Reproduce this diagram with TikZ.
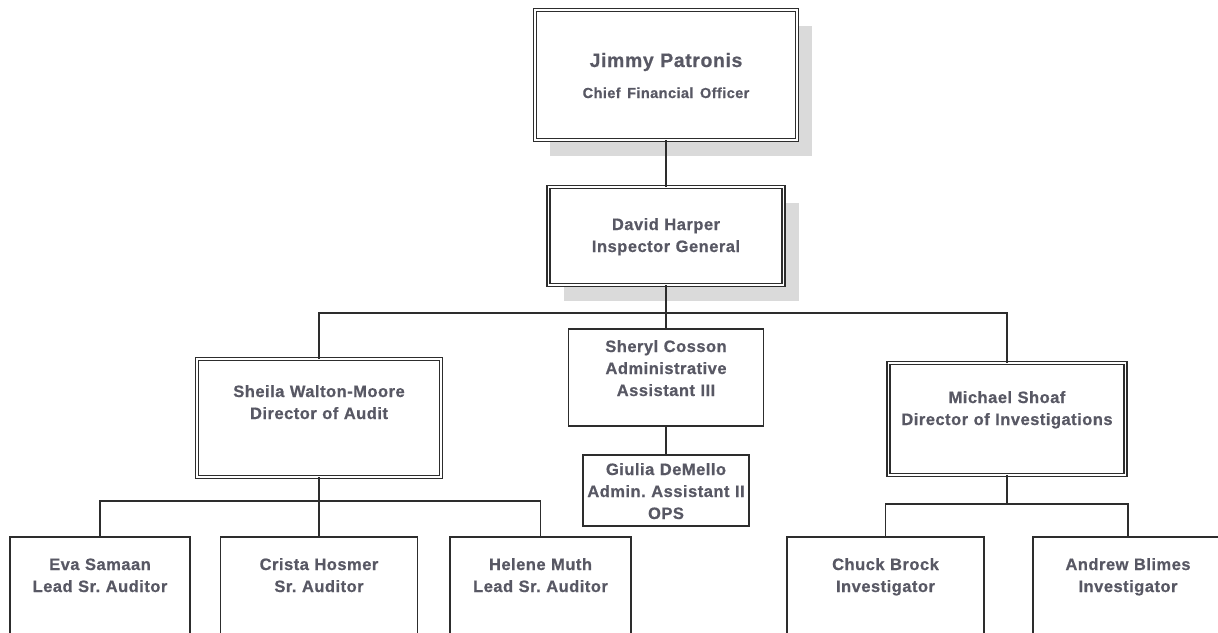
\documentclass[tikz,border=0pt]{standalone}
\usepackage{fontspec}
\newfontfamily\orgfont[LetterSpace=3.0,BoldFeatures={FakeBold=0.6}]{Liberation Sans}
\usetikzlibrary{shadows}
\definecolor{textgray}{RGB}{88,88,100}
\definecolor{linegray}{RGB}{45,45,45}
\definecolor{shadowgray}{RGB}{218,218,218}
\frenchspacing

\begin{document}
\begin{tikzpicture}[x=1pt,y=-1pt,
  box/.style={draw=linegray,line width=1.5pt,fill=white,align=center,anchor=north,
    inner sep=0pt,outer sep=0pt,text=textgray,
    font=\orgfont\bfseries\fontsize{16.5}{22}\selectfont},
  dbox/.style={box,double=white,double distance=1.6pt,line width=1.3pt},
  shadowed/.style={drop shadow={shadow xshift=15pt,shadow yshift=-16pt,fill=shadowgray,draw=none,opacity=1}},
  link/.style={draw=linegray,line width=1.7pt}]

\useasboundingbox (0,0) rectangle (1218,632);
\clip (0,0) rectangle (1218,632);

\node[dbox,shadowed,text width=262pt,text height=57pt,text depth=73pt,
  font=\orgfont\bfseries\fontsize{19.5}{31}\selectfont] (cfo) at (666,10)
  {Jimmy Patronis\\{\fontsize{14.5}{31}\selectfont Chief Financial Officer}};
\node[dbox,shadowed,text width=235pt,text height=43pt,text depth=55pt] (ig) at (666,187)
  {David Harper\\Inspector General};

\node[dbox,text width=244pt,text height=38pt,text depth=80pt] (sheila) at (319,359)
  {Sheila Walton-Moore\\Director of Audit};
\node[box,text width=195pt,text height=23pt,text depth=74pt] (sheryl) at (666,329)
  {Sheryl Cosson\\Administrative\\Assistant III};
\node[box,text width=166pt,text height=20pt,text depth=51pt] (giulia) at (666,455)
  {Giulia DeMello\\Admin. Assistant II\\OPS};
\node[dbox,text width=237pt,text height=40pt,text depth=72pt] (michael) at (1007,363)
  {Michael Shoaf\\Director of Investigations};

\node[box,text width=180pt,text height=33pt,text depth=130pt] (eva) at (100,537)
  {Eva Samaan\\Lead Sr. Auditor};
\node[box,text width=197pt,text height=33pt,text depth=130pt] (crista) at (319,537)
  {Crista Hosmer\\Sr. Auditor};
\node[box,text width=181pt,text height=33pt,text depth=130pt] (helene) at (540.5,537)
  {Helene Muth\\Lead Sr. Auditor};
\node[box,text width=197pt,text height=33pt,text depth=130pt] (chuck) at (885.5,537)
  {Chuck Brock\\Investigator};
\node[box,text width=190pt,text height=33pt,text depth=130pt] (andrew) at (1128,537)
  {Andrew Blimes\\Investigator};

\coordinate (bus) at (666,313);
\path (sheila.south) ++(0,24) coordinate (abus);
\path (michael.south) ++(0,29) coordinate (ibus);

\draw[link] (cfo.south)--(ig.north);
\draw[link] (ig.south)--(bus);
\draw[link] (sheila.north)|-(bus)-|(michael.north);
\draw[link] (bus)--(sheryl.north);
\draw[link] (sheryl.south)--(giulia.north);

\draw[link] (sheila.south)--(abus);
\draw[link] (eva.north)|-(abus)-|(helene.north);
\draw[link] (abus)--(crista.north);

\draw[link] (michael.south)--(ibus);
\draw[link] (chuck.north)|-(ibus)-|(andrew.north);

\end{tikzpicture}
\end{document}
